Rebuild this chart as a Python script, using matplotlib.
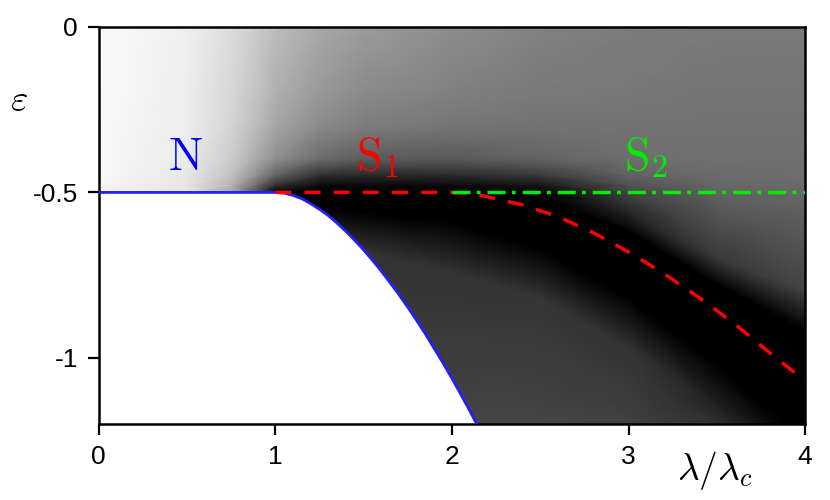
import numpy as np
import matplotlib
matplotlib.use("Agg")
import matplotlib.pyplot as plt

plt.rcParams['axes.unicode_minus'] = False
plt.rcParams['mathtext.fontset'] = 'cm'
plt.rcParams['font.family'] = ['Liberation Sans', 'DejaVu Sans']

# curva do estado fundamental (N -> S1)
lam_N = [0.0, 0.5, 1.0, 1.05, 1.1, 1.15, 1.2, 1.25, 1.3, 1.35, 1.4, 1.45, 1.5,
         1.55, 1.6, 1.65, 1.7, 1.75, 1.8, 1.85, 1.9, 1.95, 2.0, 2.05, 2.1, 2.15]
eps_N = [-0.5, -0.5, -0.5, -0.502, -0.509, -0.519, -0.534, -0.551, -0.570,
         -0.593, -0.618, -0.645, -0.674, -0.705, -0.738, -0.773, -0.809,
         -0.847, -0.887, -0.928, -0.972, -1.016, -1.062, -1.110, -1.159, -1.21]

# S1 (tracejada vermelha)
lam_S1 = [1.0, 1.5, 2.0, 2.1, 2.2, 2.4, 2.6, 2.8, 3.0, 3.2, 3.4, 3.6, 3.8, 4.0]
eps_S1 = [-0.5, -0.5, -0.5, -0.503, -0.513, -0.538, -0.573, -0.622, -0.680,
          -0.745, -0.818, -0.897, -0.985, -1.07]

# S2 (traco-ponto verde)
lam_S2 = [2.0, 4.0]
eps_S2 = [-0.5, -0.5]

# fundo em tons de cinza (0 = preto, 1 = branco), lido da figura
# cada linha da malha segue uma feicao (faixa preta etc.) ao longo de lambda
lam_grid = [0.0, 0.5, 0.75, 0.9, 1.0, 1.25, 1.5, 2.0, 2.5, 3.0, 3.5, 4.0]
eps_rows = [
    [0.0] * 12,
    [-0.2] * 12,
    [-0.3] * 12,
    [-0.4] * 12,
    [-0.45] * 12,
    [-0.48] * 12,
    [-0.5] * 12,
    [-0.51, -0.51, -0.51, -0.51, -0.51, -0.51, -0.51, -0.51, -0.51, -0.57, -0.70, -0.80],
    [-0.52, -0.52, -0.52, -0.52, -0.52, -0.52, -0.52, -0.52, -0.52, -0.62, -0.78, -0.92],
    [-0.53, -0.53, -0.53, -0.53, -0.53, -0.54, -0.56, -0.59, -0.67, -0.82, -1.02, -1.25],
    [-0.65, -0.65, -0.65, -0.65, -0.65, -0.66, -0.68, -0.74, -0.82, -0.97, -1.15, -1.35],
    [-1.2, -1.2, -1.2, -1.2, -1.2, -1.2, -1.2, -1.2, -1.2, -1.2, -1.2, -1.45],
]
gray = [
    [0.98, 0.94, 0.86, 0.79, 0.74, 0.66, 0.61, 0.55, 0.51, 0.49, 0.48, 0.48],
    [0.98, 0.93, 0.84, 0.76, 0.69, 0.60, 0.54, 0.50, 0.48, 0.47, 0.46, 0.46],
    [0.97, 0.93, 0.83, 0.73, 0.65, 0.54, 0.49, 0.46, 0.45, 0.45, 0.45, 0.45],
    [0.97, 0.92, 0.80, 0.66, 0.56, 0.42, 0.36, 0.35, 0.39, 0.43, 0.44, 0.44],
    [0.97, 0.91, 0.76, 0.55, 0.38, 0.18, 0.15, 0.16, 0.22, 0.38, 0.42, 0.43],
    [0.96, 0.90, 0.70, 0.40, 0.18, 0.04, 0.03, 0.04, 0.08, 0.32, 0.40, 0.42],
    [0.96, 0.90, 0.66, 0.30, 0.00, 0.00, 0.00, 0.00, 0.00, 0.27, 0.39, 0.41],
    [0.00, 0.00, 0.00, 0.00, 0.00, 0.00, 0.00, 0.00, 0.00, 0.13, 0.22, 0.26],
    [0.00, 0.00, 0.00, 0.00, 0.00, 0.00, 0.00, 0.00, 0.00, 0.00, 0.00, 0.00],
    [0.00, 0.00, 0.00, 0.00, 0.00, 0.00, 0.00, 0.00, 0.00, 0.00, 0.00, 0.00],
    [0.20, 0.20, 0.20, 0.20, 0.20, 0.20, 0.20, 0.20, 0.21, 0.20, 0.14, 0.10],
    [0.27, 0.27, 0.27, 0.27, 0.27, 0.27, 0.27, 0.27, 0.27, 0.26, 0.19, 0.15],
]

fig = plt.figure(figsize=(8.3, 5.0), dpi=100)
ax = fig.add_axes([0.119, 0.152, 0.851, 0.794])

X = np.tile(lam_grid, (len(eps_rows), 1))
Y = np.array(eps_rows)
ax.pcolormesh(X, Y, np.array(gray), shading='gouraud', cmap='gray',
              vmin=0, vmax=1, zorder=0)

# regiao abaixo do estado fundamental fica branca
ax.fill_between(lam_N, eps_N, -1.5, color='white', lw=0, zorder=1)
ax.plot(lam_N, eps_N, color='#2020ff', lw=2.0, zorder=3)
ax.plot(lam_S1, eps_S1, color='#ff0000', lw=2.5, dashes=(4.6, 3.8), zorder=3)
ax.plot(lam_S2, eps_S2, color='#00ee00', lw=2.5, dashes=(5.2, 1.8, 1.1, 2.0), zorder=3)

ax.text(0.49, -0.395, r'$\mathrm{N}$', color='#0000ff', fontsize=33,
        ha='center', va='center')
ax.text(1.58, -0.395, r'$\mathrm{S}_1$', color='#ff0000', fontsize=33,
        ha='center', va='center')
ax.text(3.1, -0.395, r'$\mathrm{S}_2$', color='#00ee00', fontsize=33,
        ha='center', va='center')

ax.set_xlim(0, 4)
ax.set_ylim(-1.2, 0)
ax.set_xticks([0, 1, 2, 3, 4])
ax.set_xticklabels(['0', '1', '2', '3', '4'])
ax.set_yticks([0, -0.5, -1])
ax.set_yticklabels(['0', '-0.5', '-1'])
ax.tick_params(direction='out', length=8, width=1.6, labelsize=19, pad=7,
               top=False, right=False)
for s in ax.spines.values():
    s.set_linewidth(1.8)

fig.text(715 / 830, 1 - 470 / 500, r'$\lambda/\lambda_c$', fontsize=27,
         ha='center', va='center')
fig.text(19 / 830, 1 - 101 / 500, r'$\varepsilon$', fontsize=27,
         ha='center', va='center')

fig.savefig('out.png', dpi=100)
